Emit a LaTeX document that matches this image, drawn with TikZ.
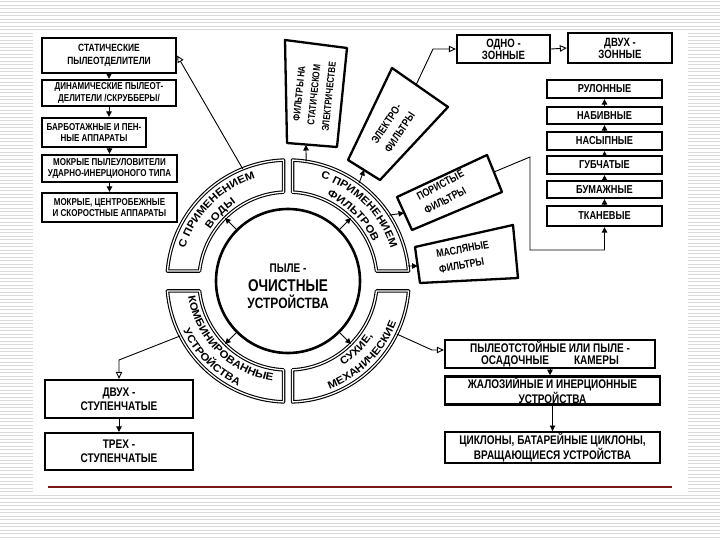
\documentclass[tikz,border=0pt]{standalone}
\usepackage{fontspec}
\setmainfont{Liberation Sans}[FakeStretch=0.8]
\newfontfamily\ringfam{Liberation Sans}[FakeStretch=1.1]
\usetikzlibrary{arrows.meta,decorations.text}
\definecolor{stripecol}{HTML}{D9D9D9}
\definecolor{rulecol}{HTML}{7A1A14}
\newcommand{\ringfont}{\ringfam\bfseries\fontsize{10.5}{10.5}\selectfont}
\newcommand{\bxf}[1]{\bfseries\fontsize{#1}{#1}\selectfont}
\begin{document}
\begin{tikzpicture}[x=1pt,y=1pt,
  box/.style={draw, line width=2.3pt, fill=white, align=center, inner sep=1pt, font=\bfseries\fontsize{10}{11.5}\selectfont},
  fR/.style={font=\bfseries\fontsize{11.5}{12}\selectfont},
  fK/.style={font=\bfseries\fontsize{12.5}{12.5}\selectfont},
  fS/.style={font=\bfseries\fontsize{12.5}{14}\selectfont},
  pbox/.style={draw, line width=2.3pt, line join=round, fill=white},
  ptext/.style={inner sep=0pt, font=\bfseries\fontsize{11}{16}\selectfont},
  seg/.style={draw, line width=1.1pt, double=white, double distance=1.3pt, line join=round},
  conn/.style={line width=0.9pt, -{Triangle[open,length=7pt,width=6.5pt]}},
  fconn/.style={line width=0.9pt, -{Triangle[length=5.5pt,width=5.5pt]}},
  ringtext/.style={decorate, decoration={text along path, text align=center, text={|\ringfont|#1}}}
]
\useasboundingbox (0,0) rectangle (720,-540);
% background
\fill[white] (0,0) rectangle (720,-540);
\foreach \yy in {1.75,5.25,...,540} \draw[stripecol, line width=1.3pt] (0,-\yy) -- (720,-\yy);
\fill[white] (33,-30) rectangle (688,-495);
\draw[rulecol, line width=1.5pt] (48,-487) -- (672,-487);

% ring segments
\pgfmathsetmacro\aO{asin(10/121)}
\pgfmathsetmacro\bO{asin(4.5/121)}
\pgfmathsetmacro\aI{asin(10/89)}
\pgfmathsetmacro\bI{asin(4.5/89)}
\begin{scope}[shift={(288,-281)}]
\draw[seg] (\aO:121) arc[start angle=\aO, end angle={90-\bO}, radius=121] -- ({90-\bI}:89) arc[start angle={90-\bI}, end angle=\aI, radius=89] -- cycle;
\draw[seg] ({90+\bO}:121) arc[start angle={90+\bO}, end angle={180-\aO}, radius=121] -- ({180-\aI}:89) arc[start angle={180-\aI}, end angle={90+\bI}, radius=89] -- cycle;
\draw[seg] ({180+\aO}:121) arc[start angle={180+\aO}, end angle={270-\bO}, radius=121] -- ({270-\bI}:89) arc[start angle={270-\bI}, end angle={180+\aI}, radius=89] -- cycle;
\draw[seg] ({270+\bO}:121) arc[start angle={270+\bO}, end angle={360-\aO}, radius=121] -- ({360-\aI}:89) arc[start angle={360-\aI}, end angle={270+\bI}, radius=89] -- cycle;
% ring texts
\path[ringtext={С ПРИМЕНЕНИЕМ}] (176:108) arc[start angle=176, end angle=94, radius=108];
\path[ringtext={ВОДЫ}] (176:93.5) arc[start angle=176, end angle=94, radius=93.5];
\path[ringtext={С ПРИМЕНЕНИЕМ}] (86:108) arc[start angle=86, end angle=4, radius=108];
\path[ringtext={ФИЛЬТРОВ}] (86:93.5) arc[start angle=86, end angle=4, radius=93.5];
\path[ringtext={КОМБИНИРОВАННЫЕ}] (184:101) arc[start angle=184, end angle=266, radius=101];
\path[ringtext={УСТРОЙСТВА}] (184:116) arc[start angle=184, end angle=266, radius=116];
\path[ringtext={СУХИЕ,}] (274:101) arc[start angle=274, end angle=356, radius=101];
\path[ringtext={МЕХАНИЧЕСКИЕ}] (274:116) arc[start angle=274, end angle=356, radius=116];
% attach points
\coordinate (ulA) at (112:121);
\coordinate (urT) at (81.4:121);
\coordinate (urE) at (54:121);
\coordinate (urP) at (33:121);
\coordinate (urM) at (7.1:121);
\coordinate (llA) at (207:121);
\coordinate (lrA) at (-26:121);
\coordinate (ci1) at (45:73);   \coordinate (co1) at (45:89);
\coordinate (ci2) at (135:73);  \coordinate (co2) at (135:89);
\coordinate (ci3) at (225:73);  \coordinate (co3) at (225:89);
\coordinate (ci4) at (315:73);  \coordinate (co4) at (315:89);
\end{scope}

% core
\node[circle, draw, line width=2.6pt, minimum size=144pt, inner sep=0pt] (core) at (288,-281) {};
\node[anchor=base, inner sep=0pt, font=\bxf{12.5}] (t1) at (288,-272) {ПЫЛЕ -};
\node[anchor=base, inner sep=0pt, font=\bxf{17}] (t2) at (288,-291) {ОЧИСТНЫЕ};
\node[anchor=base, inner sep=0pt, font=\bxf{15}] (t3) at (288,-308) {УСТРОЙСТВА};
\draw[fconn] (ci1) -- (co1);
\draw[fconn] (ci2) -- (co2);
\draw[fconn] (ci3) -- (co3);
\draw[fconn] (ci4) -- (co4);

% left stack
\node[box, minimum width=134pt, minimum height=35pt, font=\bfseries\fontsize{10.5}{12.5}\selectfont] (b1) at (109,-55.5) {СТАТИЧЕСКИЕ\\ПЫЛЕОТДЕЛИТЕЛИ};
\node[box, minimum width=134pt, minimum height=26pt] (b2) at (109,-93) {ДИНАМИЧЕСКИЕ ПЫЛЕОТ-\\ДЕЛИТЕЛИ /СКРУББЕРЫ/};
\node[box, minimum width=104pt, minimum height=29pt] (b3) at (94,-132.5) {БАРБОТАЖНЫЕ И ПЕН-\\НЫЕ АППАРАТЫ};
\node[box, minimum width=135pt, minimum height=27pt] (b4) at (109.5,-168.5) {МОКРЫЕ ПЫЛЕУЛОВИТЕЛИ\\УДАРНО-ИНЕРЦИОНОГО ТИПА};
\node[box, minimum width=135pt, minimum height=29pt] (b5) at (109.5,-207.5) {МОКРЫЕ, ЦЕНТРОБЕЖНЫЕ\\И СКОРОСТНЫЕ АППАРАТЫ};
\draw[fconn] (b1.south) -- (b2.north);
\draw[fconn] (b2.south) -- (b2.south |- b3.north);
\draw[fconn] (b4.north |- b3.south) -- (b4.north);
\draw[fconn] (b4.south) -- (b5.north);
\draw[conn] (ulA) -- (b1.east);

% top rotated boxes
\draw[pbox] (285,-40) -- (347,-48) -- (337,-147) -- (287,-143) -- cycle;
\node[ptext, rotate=84, align=center, font=\bfseries\fontsize{10}{15}\selectfont] (sf) at (314,-95) {ФИЛЬТРЫ НА\\СТАТИЧЕСКОМ\\ЭЛЕКТРИЧЕСТВЕ};
\coordinate (sfB) at (306,-145);
\draw[fconn] (urT) -- (sfB);

\draw[pbox] (392,-68) -- (448,-107) -- (380,-180) -- (348,-160) -- cycle;
\node[ptext, rotate=56, align=center] (ef) at (393,-128) {ЭЛЕКТРО-\\ФИЛЬТРЫ};
\coordinate (efB) at (364,-170);
\coordinate (efT) at (416,-85);
\draw[fconn] (urE) -- (efB);

\draw[pbox] (397,-197) -- (487,-155) -- (502,-192) -- (412,-230) -- cycle;
\node[ptext, rotate=28, align=left] (pf) at (444,-192) {ПОРИСТЫЕ\\ФИЛЬТРЫ};
\coordinate (pfL) at (404,-213);
\coordinate (pfR) at (494,-172);
\draw[fconn] (urP) -- (pfL);

\draw[pbox] (415,-247) -- (513,-225) -- (518,-278) -- (420,-283) -- cycle;
\node[ptext, rotate=10, align=left] (mf) at (464,-257) {МАСЛЯНЫЕ\\ФИЛЬТРЫ};
\coordinate (mfL) at (417.6,-266);
\draw[fconn] (urM) -- (mfL);

% right boxes
\node[box, minimum width=93pt, minimum height=28pt, font=\bfseries\fontsize{12}{12}\selectfont] (odno) at (503.5,-49) {ОДНО -\\ЗОННЫЕ};
\node[box, minimum width=104pt, minimum height=30pt, font=\bfseries\fontsize{12}{12}\selectfont] (dvz) at (620,-48) {ДВУХ -\\ЗОННЫЕ};
\coordinate (eb) at (433,-49);
\draw[conn] (efT) -- (eb) -- (odno.west);
\draw[conn] (odno.east) -- (dvz.west);

\node[box, fR, minimum width=115pt, minimum height=18pt] (r1) at (604.5,-89) {РУЛОННЫЕ};
\node[box, fR, minimum width=115pt, minimum height=17pt] (r2) at (604.5,-115.5) {НАБИВНЫЕ};
\node[box, fR, minimum width=115pt, minimum height=18pt] (r3) at (604.5,-141) {НАСЫПНЫЕ};
\node[box, fR, minimum width=115pt, minimum height=18pt] (r4) at (604.5,-165) {ГУБЧАТЫЕ};
\node[box, fR, minimum width=115pt, minimum height=17pt] (r5) at (604.5,-189.5) {БУМАЖНЫЕ};
\node[box, fR, minimum width=115pt, minimum height=20pt] (r6) at (604.5,-216) {ТКАНЕВЫЕ};
\draw[fconn] (r6.north) -- (r5.south);
\draw[fconn] (r5.north) -- (r4.south);
\draw[fconn] (r4.north) -- (r3.south);
\draw[fconn] (r3.north) -- (r2.south);
\draw[fconn] (r2.north) -- (r1.south);
\coordinate (pb1) at (530,-157);
\coordinate (pb2) at (530,-250);
\draw[fconn] (pfR) -- (pb1) -- (pb2) -| (r6.south);

% bottom right
\node[box, fK, minimum width=210pt, minimum height=28pt] (k1) at (550,-354) {ПЫЛЕОТСТОЙНЫЕ ИЛИ ПЫЛЕ -\\ОСАДОЧНЫЕ\qquad КАМЕРЫ};
\node[box, fK, minimum width=215pt, minimum height=27pt] (k2) at (552.5,-390.5) {ЖАЛОЗИЙНЫЕ И ИНЕРЦИОННЫЕ\\УСТРОЙСТВА};
\node[box, fK, minimum width=215pt, minimum height=30pt] (k3) at (552.5,-447.5) {ЦИКЛОНЫ, БАТАРЕЙНЫЕ ЦИКЛОНЫ,\\ВРАЩАЮЩИЕСЯ УСТРОЙСТВА};
\draw[fconn] (k1.south) -- (k1.south |- k2.north);
\draw[fconn] (k2.south) -- (k3.north);
\coordinate (lrb) at (432,-350);
\draw[conn] (lrA) -- (lrb) -- (k1.west |- lrb);

% bottom left
\node[box, fS, minimum width=148pt, minimum height=38pt] (s1) at (119,-399) {ДВУХ -\\СТУПЕНЧАТЫЕ};
\node[box, fS, minimum width=148pt, minimum height=37pt] (s2) at (119,-451.5) {ТРЕХ -\\СТУПЕНЧАТЫЕ};
\coordinate (llb) at (119,-360);
\draw[conn] (llA) -- (llb) -- (s1.north);
\draw[fconn] (s1.south) -- (s2.north);
\end{tikzpicture}
\end{document}
